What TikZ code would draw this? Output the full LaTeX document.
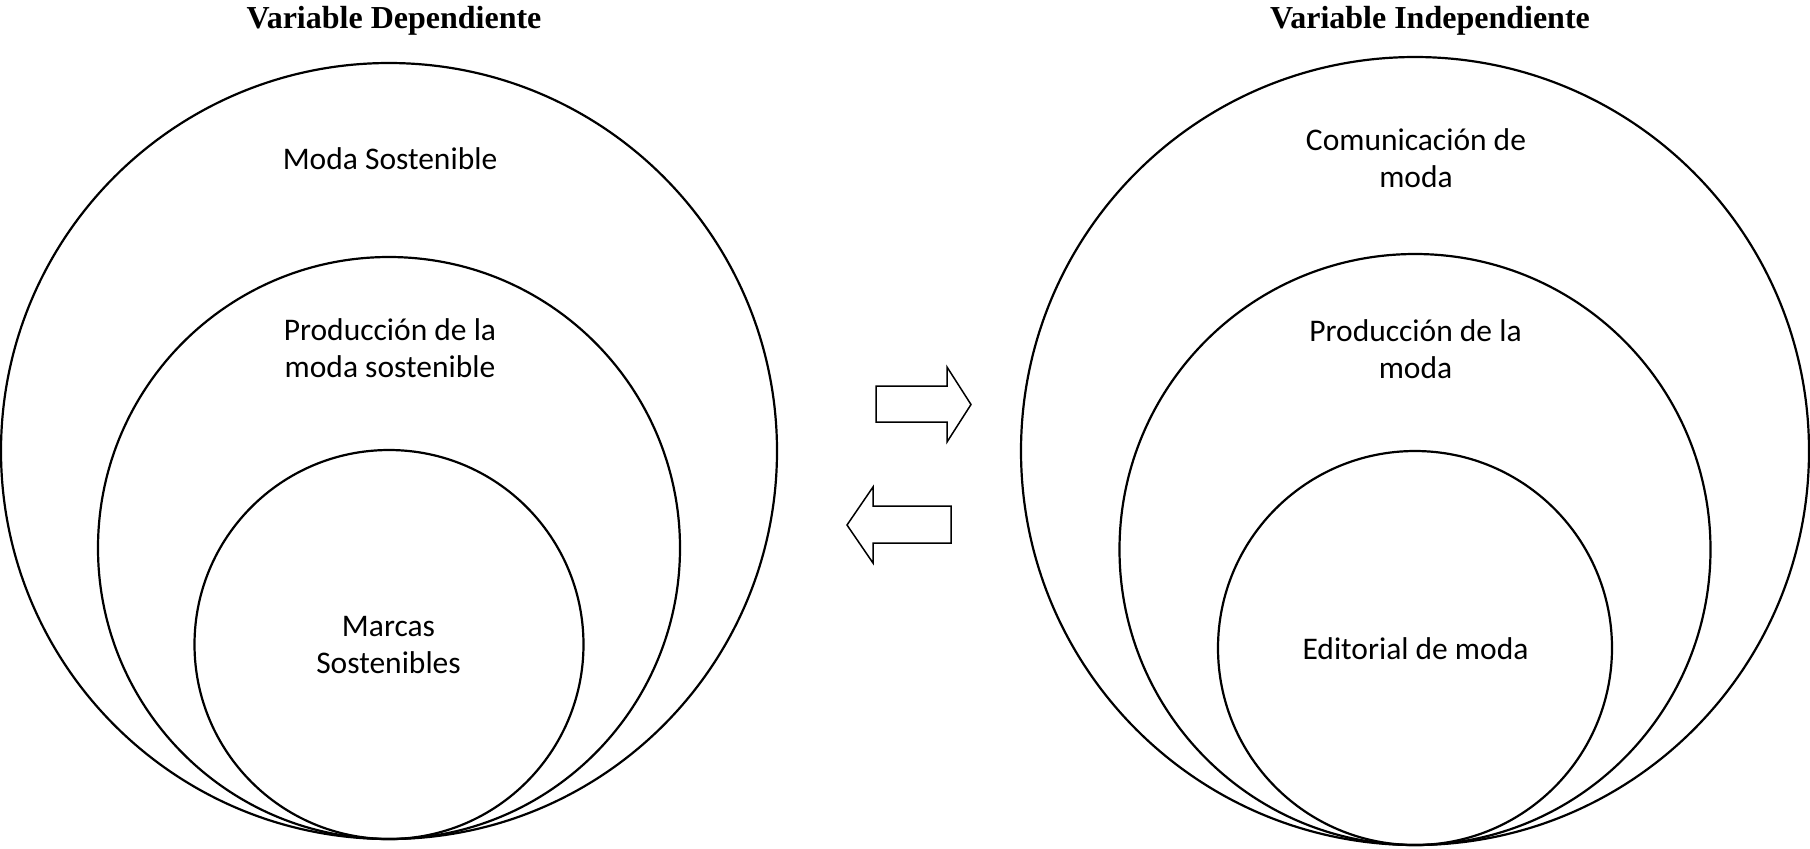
\documentclass[tikz,border=0pt]{standalone}
\usepackage{fontspec}
\setmainfont{Carlito}
\newfontfamily\titlefont{Liberation Serif}
\usepackage{tikz}

\tikzset{
    ring/.style={draw, circle, line width=1.1pt, inner sep=0pt},
    label text/.style={align=center, inner sep=0pt, font=\fontsize{15.75}{18.5}\selectfont},
    title text/.style={anchor=base, inner sep=0pt, font=\titlefont\bfseries\fontsize{16}{19}\selectfont},
    fat arrow/.style={draw, line width=0.75pt, line join=miter}
}

\begin{document}
\begin{tikzpicture}[x=0.5pt, y=-0.5pt]
    \useasboundingbox (0,0) rectangle (1810,848);

    % Titles
    \node[title text] (tdep) at (394,28) {Variable Dependiente};
    \node[title text] (tind) at (1430,28) {Variable Independiente};

    % Left set of circles, all touching at the bottom
    \node[ring, minimum size=388pt] (dbig) at (389,451) {};
    \node[ring, minimum size=291pt] (dmid) at (389,548) {};
    \node[ring, minimum size=194.5pt] (dsmall) at (389,644.5) {};

    % Right set of circles
    \node[ring, minimum size=394pt] (ibig) at (1415,451) {};
    \node[ring, minimum size=295.5pt] (imid) at (1415,549.5) {};
    \node[ring, minimum size=197pt] (ismall) at (1415,648) {};

    % Labels inside the circles
    \node[label text, anchor=base] (dbigtxt) at (390,169) {Moda Sostenible};
    \node[label text] (dmidtxt) at (390,348) {Producción de la\\moda sostenible};
    \node[label text] (dsmalltxt) at (388.5,645) {Marcas\\Sostenibles};

    \node[label text] (ibigtxt) at (1416,158.5) {Comunicación de\\moda};
    \node[label text] (imidtxt) at (1415.5,349) {Producción de la\\moda};
    \node[label text, anchor=base] (ismalltxt) at (1415.5,659) {Editorial de moda};

    % Block arrows between the two variables
    \draw[fat arrow] (876,386) -- (947,386) -- (947,367) -- (971,404.5)
        -- (947,442) -- (947,422) -- (876,422) -- cycle;
    \draw[fat arrow] (951,506) -- (873,506) -- (873,487) -- (847,525)
        -- (873,563) -- (873,543) -- (951,543) -- cycle;
\end{tikzpicture}
\end{document}
